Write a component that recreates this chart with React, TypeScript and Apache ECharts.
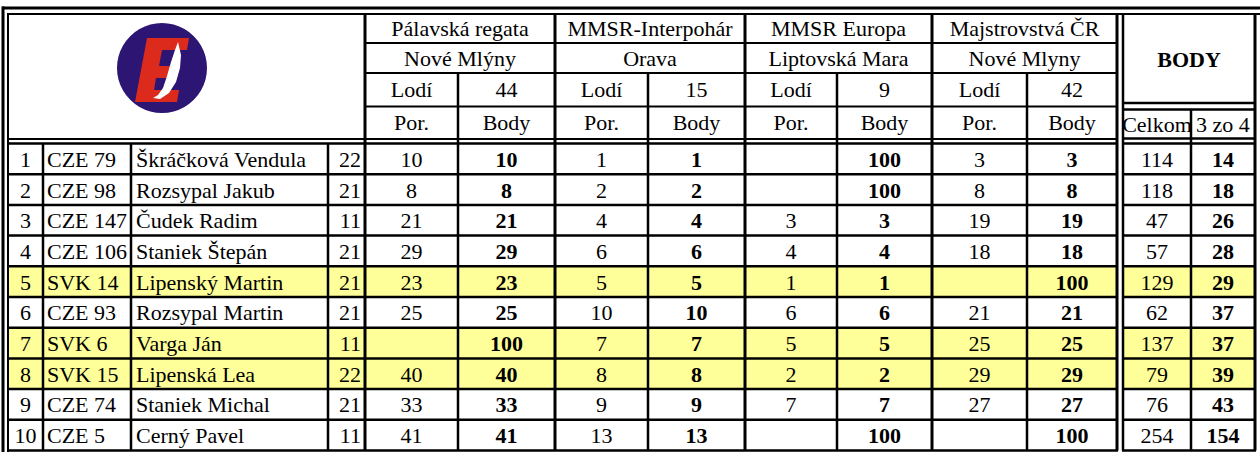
import React, { useEffect, useRef } from "react";
import * as echarts from "echarts";

// ---------- data ----------
const regattas = ["Pálavská regata", "MMSR-Interpohár", "MMSR Europa", "Majstrovstvá ČR"];
const venues = ["Nové Mlýny", "Orava", "Liptovská Mara", "Nové Mlyny"];
const boats = [44, 15, 9, 42];
const ranks = [1, 2, 3, 4, 5, 6, 7, 8, 9, 10];
const codes = ["CZE 79", "CZE 98", "CZE 147", "CZE 106", "SVK 14", "CZE 93", "SVK 6", "SVK 15", "CZE 74", "CZE 5"];
const names = [
  "Škráčková Vendula", "Rozsypal Jakub", "Čudek Radim", "Staniek Štepán", "Lipenský Martin",
  "Rozsypal Martin", "Varga Ján", "Lipenská Lea", "Staniek Michal", "Cerný Pavel",
];
const classes = [22, 21, 11, 21, 21, 21, 11, 22, 21, 11];
const pos1 = [10, 8, 21, 29, 23, 25, null, 40, 33, 41];
const body1 = [10, 8, 21, 29, 23, 25, 100, 40, 33, 41];
const pos2 = [1, 2, 4, 6, 5, 10, 7, 8, 9, 13];
const body2 = [1, 2, 4, 6, 5, 10, 7, 8, 9, 13];
const pos3 = [null, null, 3, 4, 1, 6, 5, 2, 7, null];
const body3 = [100, 100, 3, 4, 1, 6, 5, 2, 7, 100];
const pos4 = [3, 8, 19, 18, null, 21, 25, 29, 27, null];
const body4 = [3, 8, 19, 18, 100, 21, 25, 29, 27, 100];
const totals = [114, 118, 47, 57, 129, 62, 137, 79, 76, 254];
const best3 = [14, 18, 26, 28, 29, 37, 37, 39, 43, 154];
const posCols = [pos1, pos2, pos3, pos4];
const bodyCols = [body1, body2, body3, body4];

// ---------- layout ----------
const W = 1260;
const HGT = 452;
const FONT = "'Liberation Serif', 'Times New Roman', serif";
const FS = 22;
const YELLOW = "#FFFF99";
const colRank = [8, 43];
const colCode = [43, 131];
const colName = [131, 328];
const colCls = [328, 365];
const groupX = [365, 555, 745, 932, 1117];
const midX = [458, 648, 837, 1027];
const bodyX = [1123, 1191, 1255];
const dataTop = 143.5;
const dataBottom = 450.5;
const rowH = (dataBottom - dataTop) / ranks.length;
const hdrY = [14, 43, 73, 106.5, 139];

export default function App() {
  const ref = useRef<HTMLDivElement>(null);
  useEffect(() => {
    if (!ref.current) return;
    const chart = echarts.init(ref.current, null, { renderer: "svg" });

    const txt = (text: string, x: number, y: number, align = "center", bold = false, z = 50) => ({
      type: "text",
      z,
      silent: true,
      style: {
        text,
        x,
        y,
        align,
        verticalAlign: "middle",
        fontSize: FS,
        fontFamily: FONT,
        fontWeight: bold ? "bold" : "normal",
        fill: "#000",
      },
    });
    const line = (x1: number, y1: number, x2: number, y2: number, w: number) => ({
      type: "line",
      z: 100,
      silent: true,
      shape: { x1, y1, x2, y2 },
      style: { stroke: "#000", lineWidth: w },
    });

    const elements: any[] = [];
    // logo
    elements.push({ type: "circle", z: 10, shape: { cx: 162, cy: 68, r: 45 }, style: { fill: "#2D1573" } });
    elements.push({
      type: "polygon",
      z: 11,
      shape: {
        points: [
          [147, 38], [189, 38], [187, 50], [162, 50], [159, 66], [179, 66], [177, 78],
          [156, 78], [154, 90], [179, 90], [177, 102], [135, 102],
        ],
      },
      style: { fill: "#DC2B1C" },
    });
    elements.push({
      type: "polygon",
      z: 12,
      shape: {
        points: [
          [178, 42], [181, 55], [180, 68], [176, 82], [169, 93], [160, 99], [153, 98],
          [158, 95], [163, 88], [167, 76], [171, 62], [175, 50],
        ],
      },
      style: { fill: "#FFFFFF" },
    });

    // header texts
    for (let k = 0; k < 4; k++) {
      const cx = (groupX[k] + groupX[k + 1]) / 2;
      const cp = (groupX[k] + midX[k]) / 2;
      const cb = (midX[k] + groupX[k + 1]) / 2;
      elements.push(txt(regattas[k], cx, (hdrY[0] + hdrY[1]) / 2));
      elements.push(txt(venues[k], cx, (hdrY[1] + hdrY[2]) / 2));
      elements.push(txt("Lodí", cp, (hdrY[2] + hdrY[3]) / 2));
      elements.push(txt(String(boats[k]), cb, (hdrY[2] + hdrY[3]) / 2));
      elements.push(txt("Por.", cp, (hdrY[3] + hdrY[4]) / 2));
      elements.push(txt("Body", cb, (hdrY[3] + hdrY[4]) / 2));
    }
    elements.push(txt("BODY", (bodyX[0] + bodyX[2]) / 2, 59, "center", true));
    elements.push(txt("Celkom", (bodyX[0] + bodyX[1]) / 2, 124));
    elements.push(txt("3 zo 4", (bodyX[1] + bodyX[2]) / 2, 124));

    // lines: outer double frame
    elements.push(line(2, 8, W, 8, 3));
    elements.push(line(7, 14, W, 14, 2));
    elements.push(line(3, 6.5, 3, HGT, 3));
    elements.push(line(8, 13, 8, HGT, 2));
    // header horizontals
    elements.push(line(groupX[0], hdrY[1], groupX[4], hdrY[1], 2));
    elements.push(line(groupX[0], hdrY[2], groupX[4], hdrY[2], 2));
    elements.push(line(groupX[0], hdrY[3], groupX[4], hdrY[3], 2));
    elements.push(line(8, hdrY[4], groupX[4], hdrY[4], 2));
    elements.push(line(bodyX[0], 103, bodyX[2], 103, 2.5));
    elements.push(line(bodyX[0], 109.5, bodyX[2], 109.5, 2.5));
    elements.push(line(bodyX[0], 138.5, bodyX[2], 138.5, 2.5));
    // data horizontals
    for (let i = 0; i <= ranks.length; i++) {
      const y = dataTop + i * rowH;
      elements.push(line(8, y, groupX[4] + 1, y, 2.5));
      elements.push(line(bodyX[0] - 1, y, bodyX[2] + 1, y, 2.5));
    }
    // verticals
    elements.push(line(groupX[0], 14, groupX[0], dataBottom, 3));
    for (let k = 1; k < 5; k++) elements.push(line(groupX[k], 14, groupX[k], dataBottom, 3));
    for (let k = 0; k < 4; k++) elements.push(line(midX[k], hdrY[2], midX[k], dataBottom, 2.5));
    elements.push(line(bodyX[0], 14, bodyX[0], dataBottom, 2.5));
    elements.push(line(bodyX[1], 109.5, bodyX[1], dataBottom, 2.5));
    elements.push(line(bodyX[2], 14, bodyX[2], dataBottom, 3));
    [colRank[1], colCode[1], colName[1]].forEach((x) => elements.push(line(x, dataTop, x, dataBottom, 2.5)));

    const renderItem = (params: any, api: any) => {
      const i = api.value(0);
      const topPt = api.coord([0, dataTop + i * rowH]);
      const botPt = api.coord([0, dataTop + (i + 1) * rowH]);
      const yc = (topPt[1] + botPt[1]) / 2 + 0.5;
      const X = (v: number) => api.coord([v, 0])[0];
      const children: any[] = [];
      if (codes[i].startsWith("SVK")) {
        children.push({
          type: "rect",
          shape: { x: X(8), y: topPt[1], width: X(groupX[4]) - X(8), height: botPt[1] - topPt[1] },
          style: { fill: YELLOW },
        });
        children.push({
          type: "rect",
          shape: { x: X(bodyX[0]), y: topPt[1], width: X(bodyX[2]) - X(bodyX[0]), height: botPt[1] - topPt[1] },
          style: { fill: YELLOW },
        });
      }
      const t = (text: string, x: number, align = "center", bold = false) => ({
        type: "text",
        style: {
          text,
          x,
          y: yc,
          align,
          verticalAlign: "middle",
          fontSize: FS,
          fontFamily: FONT,
          fontWeight: bold ? "bold" : "normal",
          fill: "#000",
        },
      });
      children.push(t(String(ranks[i]), X((colRank[0] + colRank[1]) / 2)));
      children.push(t(codes[i], X(colCode[0] + 4), "left"));
      children.push(t(names[i], X(colName[0] + 5), "left"));
      children.push(t(String(classes[i]), X(colCls[1] - 4), "right"));
      for (let k = 0; k < 4; k++) {
        const p = posCols[k][i];
        if (p !== null) children.push(t(String(p), X((groupX[k] + midX[k]) / 2)));
        children.push(t(String(bodyCols[k][i]), X((midX[k] + groupX[k + 1]) / 2), "center", true));
      }
      children.push(t(String(totals[i]), X((bodyX[0] + bodyX[1]) / 2)));
      children.push(t(String(best3[i]), X((bodyX[1] + bodyX[2]) / 2), "center", true));
      return { type: "group", children };
    };

    chart.setOption({
      animation: false,
      backgroundColor: "#fff",
      grid: { left: 0, right: 0, top: 0, bottom: 0 },
      xAxis: { type: "value", min: 0, max: W, show: false },
      yAxis: { type: "value", min: 0, max: HGT, inverse: true, show: false },
      series: [
        {
          type: "custom",
          coordinateSystem: "cartesian2d",
          silent: true,
          z: 5,
          encode: { x: 1, y: 2 },
          data: ranks.map((r, i) => [i, 0, dataTop + i * rowH]),
          renderItem,
        },
      ],
      graphic: { elements },
    });
    return () => chart.dispose();
  }, []);
  return <div ref={ref} style={{ position: "absolute", left: 0, top: 0, width: W, height: HGT }} />;
}
